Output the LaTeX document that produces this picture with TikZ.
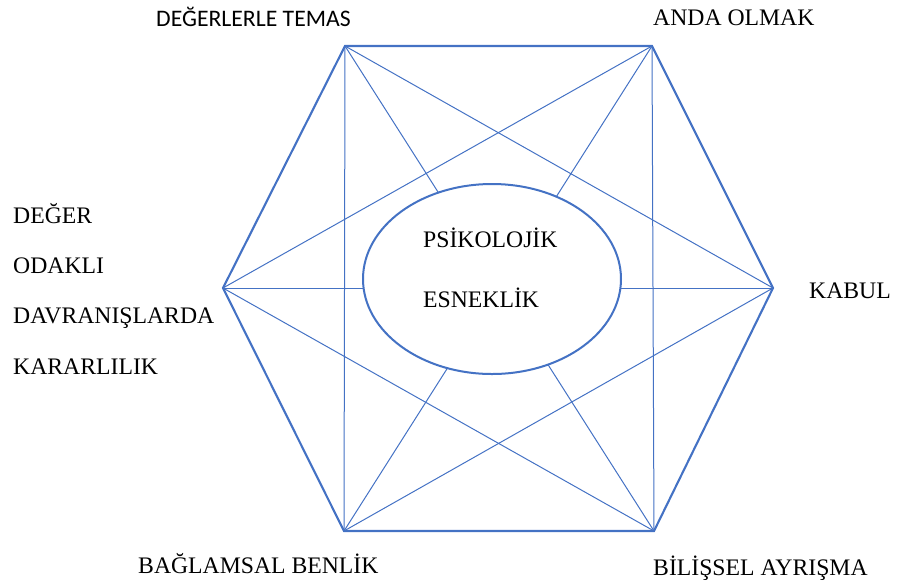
\documentclass[tikz,border=0pt]{standalone}
\usepackage{fontspec}
\setmainfont{Liberation Serif}
\newfontfamily\calib{Carlito}
\definecolor{hexblue}{HTML}{4472C4}
\begin{document}
\begin{tikzpicture}[x=1pt,y=-1pt,
  edge/.style={draw=hexblue,line width=2.1pt,line join=miter},
  link/.style={draw=hexblue,line width=1pt},
  lbl/.style={inner sep=0pt,font=\fontsize{23.7}{28}\selectfont,anchor=base west}]
\useasboundingbox (0,0) rectangle (897,582);
\coordinate (tl) at (345,46);
\coordinate (tr) at (652,46);
\coordinate (r) at (773,288);
\coordinate (br) at (654,531);
\coordinate (bl) at (344,531);
\coordinate (l) at (223,288);
% inner connectors
\draw[link] (tl) -- (bl);
\draw[link] (tl) -- (br);
\draw[link] (tl) -- (r);
\draw[link] (tr) -- (br);
\draw[link] (tr) -- (bl);
\draw[link] (tr) -- (l);
\draw[link] (l) -- (r);
\draw[link] (l) -- (br);
\draw[link] (bl) -- (r);
% hexagon
\draw[edge] (tl) -- (tr) -- (r) -- (br) -- (bl) -- (l) -- cycle;
% center ellipse
\path[draw=hexblue,line width=2pt,fill=white] (492,279) ellipse [x radius=129pt,y radius=95pt];
\node[lbl] (p1) at (423,247) {PSİKOLOJİK};
\node[lbl] (p2) at (423,307) {ESNEKLİK};
% labels
\node[lbl,font=\calib\fontsize{23.7}{28}\selectfont] (ltl) at (156,26) {DEĞERLERLE TEMAS};
\node[lbl] (ltr) at (653,25) {ANDA OLMAK};
\node[lbl] (lr) at (809,298) {KABUL};
\node[lbl] (l1) at (13,223) {DEĞER};
\node[lbl] (l2) at (13,273) {ODAKLI};
\node[lbl] (l3) at (13,323) {DAVRANIŞLARDA};
\node[lbl] (l4) at (13,374) {KARARLILIK};
\node[lbl] (lbl1) at (138,573) {BAĞLAMSAL BENLİK};
\node[lbl] (lbr) at (653,575) {BİLİŞSEL AYRIŞMA};
\end{tikzpicture}
\end{document}
